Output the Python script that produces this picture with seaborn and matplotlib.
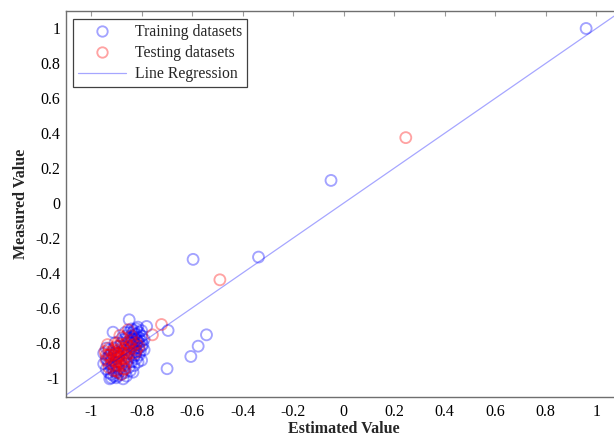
import matplotlib
matplotlib.use("Agg")
import matplotlib.pyplot as plt
from matplotlib.lines import Line2D
import seaborn as sns
import pandas as pd

# ---------------- data ----------------
train_x = [0.96, -0.05, -0.337, -0.596, -0.543, -0.576, -0.605, -0.699, -0.695, -0.78,
           -0.849, -0.913, -0.834, -0.926, -0.873, -0.814,
           -0.95, -0.95, -0.94, -0.94, -0.94,
           -0.93, -0.93, -0.93, -0.93, -0.92, -0.92, -0.92, -0.92, -0.92, -0.91,
           -0.91, -0.91, -0.91, -0.90, -0.90, -0.90, -0.90, -0.90, -0.89, -0.89,
           -0.89, -0.89, -0.88, -0.88, -0.88, -0.88, -0.87, -0.87, -0.87, -0.87,
           -0.86, -0.86, -0.86, -0.86, -0.86, -0.85, -0.85, -0.85, -0.85, -0.85,
           -0.84, -0.84, -0.84, -0.84, -0.84, -0.83, -0.83, -0.83, -0.83, -0.83,
           -0.83, -0.82, -0.82, -0.82, -0.82, -0.82, -0.82, -0.81, -0.81, -0.81,
           -0.81, -0.81, -0.80, -0.80, -0.80, -0.80, -0.79, -0.79, -0.845, -0.835,
           -0.825, -0.815, -0.855, -0.875, -0.895, -0.905, -0.915, -0.925, -0.935,
           -0.895, -0.865, -0.845, -0.80, -0.815, -0.826, -0.805, -0.795, -0.835,
           -0.855, -0.865, -0.825, -0.905]
train_y = [1.0, 0.13, -0.309, -0.322, -0.754, -0.819, -0.878, -0.948, -0.729, -0.706,
           -0.668, -0.739, -0.968, -1.006, -1.006, -0.91,
           -0.86, -0.92, -0.89, -0.95, -0.83,
           -0.84, -0.88, -0.92, -0.97, -0.98, -1.00, -0.86, -0.90, -0.94, -0.83,
           -0.87, -0.96, -0.99, -0.85, -0.89, -0.93, -0.97, -1.00, -0.82, -0.88,
           -0.91, -0.95, -0.80, -0.86, -0.93, -0.98, -0.78, -0.84, -0.90, -0.96,
           -0.76, -0.81, -0.87, -0.92, -0.99, -0.74, -0.79, -0.84, -0.89, -0.94,
           -0.72, -0.77, -0.82, -0.86, -0.91, -0.73, -0.76, -0.80, -0.84, -0.88,
           -0.93, -0.72, -0.75, -0.78, -0.81, -0.85, -0.89, -0.74, -0.77, -0.80,
           -0.83, -0.87, -0.76, -0.79, -0.82, -0.90, -0.78, -0.84, -0.80, -0.78,
           -0.83, -0.79, -0.86, -0.82, -0.86, -0.91, -0.93, -0.87, -0.90,
           -0.99, -0.97, -0.96, -0.73, -0.71, -0.75, -0.85, -0.81, -0.74,
           -0.77, -0.74, -0.87, -0.80]

test_x = [0.246, -0.49, -0.721, -0.757, -0.853,
          -0.945, -0.94, -0.93, -0.91, -0.89, -0.87, -0.86, -0.935,
          -0.93, -0.93, -0.92, -0.92, -0.92, -0.91, -0.91, -0.91, -0.91, -0.90,
          -0.90, -0.90, -0.90, -0.89, -0.89, -0.89, -0.89, -0.88, -0.88, -0.88,
          -0.88, -0.87, -0.87, -0.87, -0.87, -0.86, -0.86, -0.86, -0.85, -0.85,
          -0.84, -0.84, -0.83, -0.82, -0.82, -0.81, -0.886, -0.90, -0.88,
          -0.94, -0.895, -0.875, -0.865, -0.84, -0.825]
test_y = [0.375, -0.439, -0.695, -0.754, -0.725,
          -0.85, -0.90, -0.94, -0.96, -0.97, -0.93, -0.91, -0.81,
          -0.83, -0.87, -0.85, -0.89, -0.92, -0.84, -0.87, -0.90, -0.93, -0.82,
          -0.86, -0.88, -0.91, -0.84, -0.87, -0.89, -0.93, -0.81, -0.85, -0.88,
          -0.91, -0.83, -0.86, -0.89, -0.95, -0.80, -0.84, -0.88, -0.82, -0.86,
          -0.79, -0.83, -0.81, -0.80, -0.84, -0.82, -0.758, -0.96, -0.98,
          -0.87, -0.80, -0.77, -0.95, -0.76, -0.86]

reg_slope = 1.0
reg_intercept = 0.0
reg_x = [-1.1, 1.1]

xticks = [-1, -0.8, -0.6, -0.4, -0.2, 0, 0.2, 0.4, 0.6, 0.8, 1]
yticks = [-1, -0.8, -0.6, -0.4, -0.2, 0, 0.2, 0.4, 0.6, 0.8, 1]

series_labels = ["Training datasets", "Testing datasets", "Line Regression"]

# ---------------- style ----------------
sns.set_style("white")
plt.rcParams["font.family"] = ["Liberation Serif", "DejaVu Serif"]
plt.rcParams["axes.unicode_minus"] = False

W, H = 614, 437
fig = plt.figure(figsize=(W / 100, H / 100), dpi=100)
ax = fig.add_axes([65.8 / W, 1 - 397 / H, (621.5 - 65.8) / W, (397 - 11) / H])

blue = (0.0, 0.0, 1.0, 0.36)
red = (1.0, 0.0, 0.0, 0.36)
lineblue = (0.0, 0.0, 1.0, 0.35)

df_train = pd.DataFrame({"x": train_x, "y": train_y})
df_test = pd.DataFrame({"x": test_x, "y": test_y})

sns.scatterplot(data=df_train, x="x", y="y", ax=ax, s=62, marker="o", legend=False)
sns.scatterplot(data=df_test, x="x", y="y", ax=ax, s=62, marker="o", legend=False)
colls = ax.collections
colls[0].set_facecolor("none"); colls[0].set_edgecolor(blue); colls[0].set_linewidth(1.35)
colls[1].set_facecolor("none"); colls[1].set_edgecolor(red); colls[1].set_linewidth(1.35)

reg_y = [reg_slope * v + reg_intercept for v in reg_x]
sns.lineplot(x=reg_x, y=reg_y, ax=ax, color=lineblue, linewidth=0.9, legend=False)

ax.set_xlim(-1.1, 1.1)
ax.set_ylim(-1.11, 1.1)
ax.set_xticks(xticks)
ax.set_yticks(yticks)
ax.set_xticklabels([f"{v:g}" for v in xticks])
ax.set_yticklabels([f"{v:g}" for v in yticks])

spine_c = "#6f6f6f"
for s in ax.spines.values():
    s.set_color(spine_c)
    s.set_linewidth(1.0)
ax.tick_params(axis="both", direction="in", length=3.5, width=0.8, color="#9a9a9a",
               labelsize=11.5, labelcolor="black", top=True, right=True)
ax.tick_params(axis="x", pad=5)
ax.tick_params(axis="y", pad=4)

ax.set_xlabel("Estimated Value", fontsize=11.5, fontweight="bold", labelpad=1)
ax.set_ylabel("Measured Value", fontsize=11.5, fontweight="bold", labelpad=4)

handles = [
    Line2D([], [], linestyle="none", marker="o", markersize=7.5, markerfacecolor="none",
           markeredgecolor=blue, markeredgewidth=1.35),
    Line2D([], [], linestyle="none", marker="o", markersize=7.5, markerfacecolor="none",
           markeredgecolor=red, markeredgewidth=1.35),
    Line2D([], [], color=lineblue, linewidth=0.9),
]
leg = ax.legend(handles, series_labels, loc="upper left",
                bbox_to_anchor=(73 / W, 1 - 19.3 / H), bbox_transform=fig.transFigure,
                fontsize=11.3, frameon=True, fancybox=False, framealpha=1,
                edgecolor="#404040", borderpad=0.3, labelspacing=0.33,
                handlelength=3.1, handletextpad=0.55, borderaxespad=0)
leg.get_frame().set_linewidth(0.9)

fig.savefig("out.png", dpi=100)
